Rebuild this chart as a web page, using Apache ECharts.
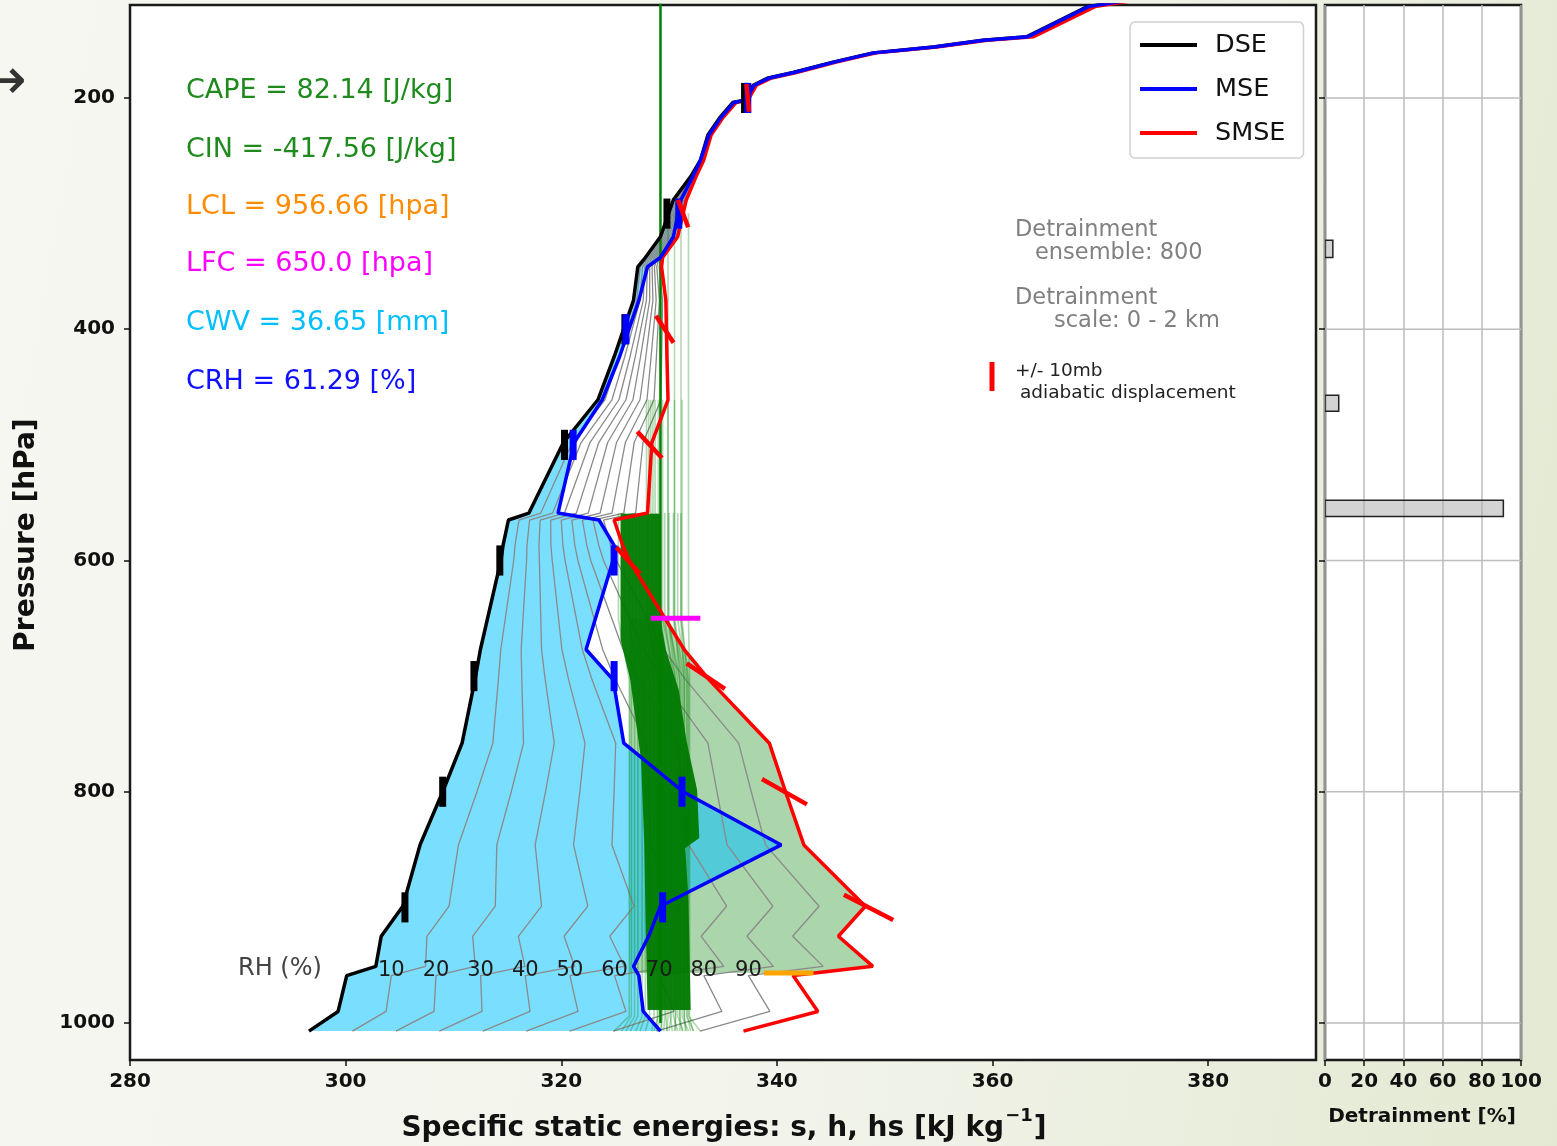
<!DOCTYPE html>
<html><head><meta charset="utf-8">
<script src="https://cdn.jsdelivr.net/npm/echarts@6/dist/echarts.min.js"></script>
<style>
html,body{margin:0;padding:0;width:1557px;height:1146px;overflow:hidden;
background:linear-gradient(100deg,#f6f7f1 0%,#f2f4eb 55%,#e3e9d2 100%);}
#c{width:1557px;height:1146px;}
</style></head><body><div id="c"></div>
<script>
// ---------------- data ----------------
const PRESSURE = [1007, 990, 959, 951, 925, 899, 846, 800, 758, 703, 677, 600, 587, 565, 559, 498, 461, 424, 375, 346,
  338, 320, 288, 268, 254, 232, 217, 204, 202, 189, 183, 178, 169, 161, 156, 150, 147, 121, 115];
const DSE = [296.6, 299.3, 300.1, 302.8, 303.3, 305.3, 306.9, 309.0, 310.8, 312.0, 312.5, 314.4, 314.6, 315.1, 317.0, 320.2, 323.4, 324.9, 326.7, 327.1,
  327.8, 329.2, 330.4, 332.0, 332.9, 333.6, 334.7, 335.9, 337.0, 337.8, 339.1, 341.5, 345.2, 348.9, 354.5, 359.1, 363.2, 368.8, 372.9];
const MSE = [329.2, 327.6, 327.2, 326.7, 328.1, 329.2, 340.4, 331.3, 325.8, 324.8, 322.3, 324.8, 324.9, 323.5, 319.7, 321.2, 323.8, 325.4, 327.2, 328.0,
  329.2, 330.4, 331.1, 332.2, 332.9, 333.7, 334.8, 336.0, 337.1, 337.9, 339.2, 341.6, 345.3, 349.0, 354.6, 359.2, 363.3, 368.9, 373.0];
const SMSE = [336.9, 343.8, 341.5, 348.9, 345.7, 348.2, 342.5, 340.8, 339.3, 333.7, 331.4, 326.3, 325.7, 324.9, 328.0, 328.4, 329.9, 329.8, 329.7, 329.3,
  329.4, 330.8, 331.6, 332.5, 333.2, 333.9, 335.0, 336.2, 337.3, 338.1, 339.4, 341.8, 345.5, 349.2, 354.8, 359.5, 363.8, 369.5, 373.6];

const RH_LEVELS = [10, 20, 30, 40, 50, 60, 70, 80, 90];
const RH_LABEL_INDEX = 2;      // level where the RH contour labels sit
const RH_LABEL_P = 954;

const X_TICKS = [280, 300, 320, 340, 360, 380];
const Y_TICKS = [200, 400, 600, 800, 1000];
const DETR_X_TICKS = [0, 20, 40, 60, 80, 100];

// +/- 10 hPa adiabatic displacement marks
const DISP_P = [200, 300, 400, 500, 600, 700, 800, 900];
const DISP_DP = 10;
const DSE_DISP = [337.0, 329.8, 325.9, 320.3, 314.3, 311.9, 309.0, 305.5];
const MSE_DISP = [337.3, 330.9, 326.0, 321.1, 324.9, 324.9, 331.2, 329.4];
const SMSE_DISP = [337.3, 331.3, 329.6, 328.2, 326.2, 333.4, 340.7, 348.5];
const SMSE_DISP_DS = [0.1, 0.4, 0.7, 1.0, 0.95, 1.6, 1.9, 2.1];

const PARCEL_H = 329.2;
const CIN_LEFT_H = 326.3;
const LCL_P = 956.66, LFC_P = 650.0;
const LCL_BAR = [338.8, 343.4];
const LFC_BAR = [328.3, 332.9];
const SURFACE_P = 1007, ENS_FAN_P = 994, ENS_LOW_TOP_P = 703, ENS_HIGH_BASE_P = 651;

// dense core of the 800-member ensemble [s, p]
const ENS_CORE = [[325.5,559.6],[325.5,668.8],[326.4,703.4],[327.4,772.6],[327.7,846.1],[327.8,899],[328.0,988.8],
  [332.0,988.8],[331.8,893.7],[331.5,848.7],[332.8,840.0],[332.6,798.5],[331.6,755.3],[330.9,712.0],[329.7,677.4],[329.2,651.5],[329.2,559.6]];
// representative members: [s at surface, s low levels, s upper levels, detrainment pressure]
const ENS_MEMBERS = [
  [324.9,326.3,325.3,559],[325.6,326.5,325.6,559],[326.0,326.8,325.9,559],[326.4,327.1,326.3,559],[326.9,327.5,326.6,559],
  [327.3,327.8,326.9,559],[327.8,328.2,327.3,559],[328.4,328.6,327.6,559],[328.9,328.9,328.0,559],[329.3,329.3,328.4,559],
  [329.8,329.7,328.8,559],[330.3,330.1,329.2,559],[330.8,330.4,329.6,559],[331.3,330.8,330.0,559],[331.8,331.2,330.4,559],
  [332.3,331.6,330.8,559],[332.9,331.8,331.1,559],
  [328.6,329.0,327.9,461],[328.9,329.2,328.1,461],[329.2,329.4,328.3,461],[329.5,329.6,328.5,461],[329.8,329.9,328.7,461],
  [330.0,330.2,329.0,461],[330.5,330.6,329.4,461],[331.0,331.0,329.9,461],[331.5,331.4,330.5,461],[332.0,331.7,331.2,461],
  [330.6,330.6,329.9,300],[331.2,331.0,330.5,300],[331.6,331.4,331.1,300],[332.2,331.9,331.8,300]
];

const DETR_P_TOP = [323, 457, 548];
const DETR_P_BOT = [338, 471, 562];
const DETR_PCT = [4, 7, 91];

const STATS_TEXT = ['CAPE = 82.14 [J/kg]', 'CIN = -417.56 [J/kg]', 'LCL = 956.66 [hpa]', 'LFC = 650.0 [hpa]', 'CWV = 36.65 [mm]', 'CRH = 61.29 [%]'];

// ---------------- helpers ----------------
function interpS(arr, p) {
  for (let i = 0; i < PRESSURE.length - 1; i++) {
    const p0 = PRESSURE[i], p1 = PRESSURE[i + 1];
    if ((p <= p0 && p >= p1)) { const t = (p0 - p) / (p0 - p1); return arr[i] + t * (arr[i + 1] - arr[i]); }
  }
  return arr[arr.length - 1];
}
const pairs = (arr) => PRESSURE.map((p, i) => [arr[i], p]);

const cinPoly = [[CIN_LEFT_H, LFC_P], [CIN_LEFT_H, LCL_P], [interpS(SMSE, LCL_P), LCL_P]];
PRESSURE.forEach((p, i) => { if (p < LCL_P && p > LFC_P) cinPoly.push([SMSE[i], p]); });
cinPoly.push([interpS(SMSE, LFC_P), LFC_P]);
const moistPoly = pairs(DSE).concat(pairs(MSE).reverse());

const polySeries = (pts, style, z) => ({
  type: 'custom', xAxisIndex: 0, yAxisIndex: 0, clip: true, silent: true, z,
  data: [[300, 500]],
  renderItem: (params, api) => ({ type: 'polygon', shape: { points: pts.map(q => api.coord(q)) }, style })
});
const lineSeries = (name, data, color, width, z, extra) => Object.assign({
  type: 'line', name, xAxisIndex: 0, yAxisIndex: 0, data, showSymbol: false, symbol: 'none',
  lineStyle: { color, width }, itemStyle: { color }, z, silent: true, clip: true
}, extra || {});

const series = [];
series.push(polySeries(cinPoly, { fill: 'rgba(0,128,0,0.33)' }, 1));
series.push(polySeries(moistPoly, { fill: 'rgba(0,191,255,0.52)' }, 2));
RH_LEVELS.forEach(r => {
  series.push(lineSeries('RH' + r, PRESSURE.map((p, i) => [DSE[i] + r / 100 * (SMSE[i] - DSE[i]), p]), '#8a8a8a', 1.3, 3));
});
series.push({
  type: 'lines', coordinateSystem: 'cartesian2d', xAxisIndex: 0, yAxisIndex: 0, polyline: true, silent: true, z: 4,
  lineStyle: { color: '#008000', width: 1.6, opacity: 0.3 },
  data: ENS_MEMBERS.map(m => ({ coords: [[m[0], SURFACE_P], [m[1], ENS_FAN_P], [m[1], ENS_LOW_TOP_P], [m[2], ENS_HIGH_BASE_P], [m[2], m[3]]] }))
});
series.push(polySeries(ENS_CORE, { fill: 'rgba(0,122,0,0.95)' }, 5));
series.push(lineSeries('parcel', [[PARCEL_H, 110], [PARCEL_H, 1000]], '#007f00', 2.5, 6));
series.push(lineSeries('DSE', pairs(DSE), '#000000', 3.5, 7));
series.push(lineSeries('SMSE', pairs(SMSE), '#ff0000', 3.5, 8));
series.push(lineSeries('MSE', pairs(MSE), '#0000ff', 3.5, 9));
series.push({
  type: 'custom', xAxisIndex: 0, yAxisIndex: 0, clip: true, silent: true, z: 10,
  data: DISP_P.map((p, i) => [i, p]),
  renderItem: (params, api) => {
    const i = params.dataIndex, p = DISP_P[i];
    const seg = (a, b, color, w) => {
      const A = api.coord(a), B = api.coord(b);
      return { type: 'line', shape: { x1: A[0], y1: A[1], x2: B[0], y2: B[1] }, style: { stroke: color, lineWidth: w, lineCap: 'square' } };
    };
    return { type: 'group', children: [
      seg([DSE_DISP[i], p - DISP_DP], [DSE_DISP[i], p + DISP_DP], '#000', 7),
      seg([MSE_DISP[i], p - DISP_DP], [MSE_DISP[i], p + DISP_DP], '#0000ff', 7),
      seg([SMSE_DISP[i] - SMSE_DISP_DS[i], p - DISP_DP], [SMSE_DISP[i] + SMSE_DISP_DS[i], p + DISP_DP], '#ff0000', 4.5)
    ] };
  }
});
series.push({
  type: 'custom', xAxisIndex: 0, yAxisIndex: 0, clip: true, silent: true, z: 11,
  data: [[0, LCL_P], [1, LFC_P]],
  renderItem: (params, api) => {
    const bar = params.dataIndex === 0 ? LCL_BAR : LFC_BAR;
    const p = params.dataIndex === 0 ? LCL_P : LFC_P;
    const A = api.coord([bar[0], p]), B = api.coord([bar[1], p]);
    return { type: 'line', shape: { x1: A[0], y1: A[1], x2: B[0], y2: B[1] },
      style: { stroke: params.dataIndex === 0 ? '#ffa500' : '#ff00ff', lineWidth: 5 } };
  }
});
series.push({
  type: 'custom', xAxisIndex: 0, yAxisIndex: 0, clip: false, silent: true, z: 12,
  data: RH_LEVELS.map(r => [r, RH_LABEL_P]),
  renderItem: (params, api) => {
    const r = RH_LEVELS[params.dataIndex], i = RH_LABEL_INDEX;
    const P = api.coord([DSE[i] + r / 100 * (SMSE[i] - DSE[i]), RH_LABEL_P]);
    return { type: 'text', x: P[0], y: P[1] + 1, style: { text: String(r), font: '21px "DejaVu Sans"', fill: '#1a1a1a', align: 'center', verticalAlign: 'middle' } };
  }
});
series.push({
  type: 'custom', xAxisIndex: 1, yAxisIndex: 1, clip: true, silent: true, z: 2,
  data: Y_TICKS.map(p => [50, p]),
  renderItem: (params, api) => {
    const p = Y_TICKS[params.dataIndex];
    const A = api.coord([0, p]), B = api.coord([100, p]);
    return { type: 'line', shape: { x1: A[0], y1: A[1], x2: B[0], y2: B[1] }, style: { stroke: '#bdbdbd', lineWidth: 1.5 } };
  }
});
series.push({
  type: 'custom', xAxisIndex: 1, yAxisIndex: 1, clip: true, silent: true, z: 3,
  data: DETR_PCT.map((v, i) => [v, DETR_P_TOP[i]]),
  renderItem: (params, api) => {
    const i = params.dataIndex;
    const A = api.coord([0, DETR_P_TOP[i]]), B = api.coord([DETR_PCT[i], DETR_P_BOT[i]]);
    return { type: 'rect', shape: { x: A[0], y: A[1], width: B[0] - A[0], height: B[1] - A[1] },
      style: { fill: 'rgba(175,175,175,0.55)', stroke: '#222', lineWidth: 1.5 } };
  }
});

// ---------------- text / graphic ----------------
const mctx = document.createElement('canvas').getContext('2d');
const tw = (font, t) => { mctx.font = font; return mctx.measureText(t).width; };
const TF = 'bold 28px "DejaVu Sans"', SF = 'bold 18px "DejaVu Sans"';
const t1 = 'Specific static energies: s, h, hs [kJ kg', t2 = '\u22121', t3 = ']';
const w1 = tw(TF, t1), w2 = tw(SF, t2), w3 = tw(TF, t3);
const xt0 = 723 - (w1 + w2 + w3) / 2;

const gtext = (x, y, text, font, fill, align) => ({
  type: 'text', x, y, silent: true, z: 100,
  style: { text, font, fill, align: align || 'left', verticalAlign: 'middle' }
});
const STAT_COLORS = ['#1f8b1f', '#1f8b1f', '#ff8c00', '#ff00ff', '#00bfff', '#1010ff'];
const STAT_Y = [91, 150, 207, 264, 323, 382];
const graphics = [];
STATS_TEXT.forEach((t, i) => graphics.push(gtext(186, STAT_Y[i], t, '27px "DejaVu Sans"', STAT_COLORS[i])));
graphics.push(gtext(1015, 230, 'Detrainment', '22.5px "DejaVu Sans"', '#808080'));
graphics.push(gtext(1035, 253, 'ensemble: 800', '22.5px "DejaVu Sans"', '#808080'));
graphics.push(gtext(1015, 298, 'Detrainment', '22.5px "DejaVu Sans"', '#808080'));
graphics.push(gtext(1054, 321, 'scale: 0 - 2 km', '22.5px "DejaVu Sans"', '#808080'));
graphics.push({ type: 'line', silent: true, z: 100, shape: { x1: 992, y1: 362, x2: 992, y2: 391 }, style: { stroke: '#ff0000', lineWidth: 5 } });
graphics.push(gtext(1015, 371, '+/- 10mb', '18.5px "DejaVu Sans"', '#222'));
graphics.push(gtext(1020, 393, 'adiabatic displacement', '18.5px "DejaVu Sans"', '#222'));
graphics.push(gtext(238, 969, 'RH (%)', '24px "DejaVu Sans"', '#444'));
graphics.push({ type: 'text', x: 27, y: 535, rotation: Math.PI / 2, silent: true, z: 100,
  style: { text: 'Pressure [hPa]', font: 'bold 28px "DejaVu Sans"', fill: '#111', align: 'center', verticalAlign: 'middle' } });
graphics.push(gtext(xt0, 1129, t1, TF, '#111'));
graphics.push(gtext(xt0 + w1 + 1, 1116, t2, SF, '#111'));
graphics.push(gtext(xt0 + w1 + w2 + 2, 1129, t3, TF, '#111'));
graphics.push(gtext(1422, 1117, 'Detrainment [%]', 'bold 20px "DejaVu Sans"', '#111', 'center'));
graphics.push(gtext(-22, 84, '\u2192', '58px "DejaVu Sans"', '#333'));
graphics.push(gtext(-14, 180, ')', '44px "DejaVu Sans"', '#333'));

const axisLabelStyle = { fontFamily: 'DejaVu Sans', fontWeight: 'bold', fontSize: 20, color: '#111', formatter: v => String(v) };
const tickStyle = { show: true, length: 6, inside: false, lineStyle: { color: '#111', width: 1.5 } };

const option = {
  animation: false,
  backgroundColor: 'transparent',
  grid: [
    { left: 130, top: 5, width: 1186, height: 1055, show: true, backgroundColor: '#fff', borderColor: '#1a1a1a', borderWidth: 2.5 },
    { left: 1325, top: 5, width: 196, height: 1055, show: true, backgroundColor: '#fff', borderColor: '#1a1a1a', borderWidth: 2.5 }
  ],
  legend: {
    data: ['DSE', 'MSE', 'SMSE'], orient: 'vertical', left: 1130, top: 22, icon: 'rect',
    itemWidth: 57, itemHeight: 4, itemGap: 14,
    padding: [8, 18, 10, 10], backgroundColor: '#fff', borderColor: '#d0d0d0', borderWidth: 1.5, borderRadius: 5,
    textStyle: { fontFamily: 'DejaVu Sans', fontSize: 25.5, color: '#111', lineHeight: 30, padding: [0, 0, 0, 13] },
    selectedMode: false
  },
  xAxis: [
    { gridIndex: 0, type: 'value', min: 280, max: 390, axisLine: { show: false },
      axisTick: Object.assign({ customValues: X_TICKS }, tickStyle),
      axisLabel: Object.assign({ customValues: X_TICKS, margin: 12 }, axisLabelStyle), splitLine: { show: false } },
    { gridIndex: 1, type: 'value', min: 0, max: 100, interval: 20, axisLine: { show: false },
      axisTick: Object.assign({ customValues: DETR_X_TICKS }, tickStyle),
      axisLabel: Object.assign({ customValues: DETR_X_TICKS, margin: 12 }, axisLabelStyle),
      splitLine: { show: true, lineStyle: { color: '#bdbdbd', width: 1.5 } } }
  ],
  yAxis: [
    { gridIndex: 0, type: 'value', inverse: true, min: 119.6, max: 1032, axisLine: { show: false },
      axisTick: Object.assign({ customValues: Y_TICKS }, tickStyle),
      axisLabel: Object.assign({ customValues: Y_TICKS, margin: 15 }, axisLabelStyle), splitLine: { show: false } },
    { gridIndex: 1, type: 'value', inverse: true, min: 119.6, max: 1032, axisLine: { show: false },
      axisTick: Object.assign({ customValues: Y_TICKS }, tickStyle),
      axisLabel: { show: false }, splitLine: { show: false } }
  ],
  graphic: graphics,
  series
};
const chart = echarts.init(document.getElementById('c'), null, { renderer: 'canvas', width: 1557, height: 1146 });
chart.setOption(option);
</script>
</body></html>
